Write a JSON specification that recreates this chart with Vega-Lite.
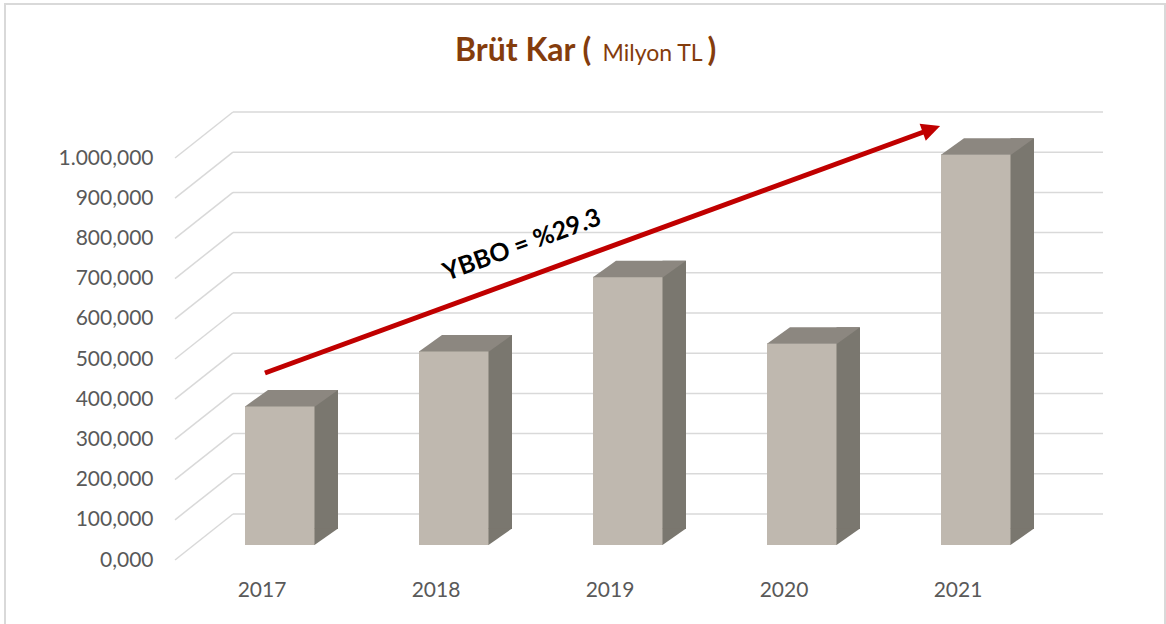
{
  "$schema": "https://vega.github.io/schema/vega-lite/v6.json",
  "width": 1160,
  "height": 620,
  "autosize": {"type": "none"},
  "padding": {"left": 5, "top": 4, "right": 1, "bottom": 0},
  "background": "white",
  "config": {
    "locale": {"number": {"decimal": ",", "thousands": ".", "grouping": [3], "currency": ["", " TL"]}},
    "view": {"stroke": "#d9d9d9", "strokeWidth": 2, "strokeDash": [1780, 1160, 620]},
    "font": "Lato"
  },
  "title": {
    "text": "Brüt Kar (",
    "anchor": "start",
    "frame": "group",
    "orient": "top",
    "offset": 0,
    "dx": 450,
    "dy": 89,
    "baseline": "alphabetic",
    "font": "Lato",
    "fontSize": 32,
    "fontWeight": "bold",
    "color": "#843C0C"
  },
  "datasets": {
    "kar": [
      {"yil": "2017", "deger": 345.8},
      {"yil": "2018", "deger": 482.6},
      {"yil": "2019", "deger": 667.4},
      {"yil": "2020", "deger": 501.7},
      {"yil": "2021", "deger": 971.9}
    ],
    "izgara": [
      {"v": 0}, {"v": 100}, {"v": 200}, {"v": 300}, {"v": 400}, {"v": 500},
      {"v": 600}, {"v": 700}, {"v": 800}, {"v": 900}, {"v": 1000}
    ],
    "not": [{"etiket": "YBBO = %29.3"}]
  },
  "layer": [
    {
      "data": {"name": "izgara"},
      "mark": {"type": "rule", "color": "#d9d9d9", "strokeWidth": 1.5, "yOffset": -46, "xOffset": 58, "x2Offset": 58},
      "encoding": {
        "x": {
          "datum": "2017", "type": "nominal", "bandPosition": 0,
          "scale": {"type": "band", "domain": ["2017", "2018", "2019", "2020", "2021"], "range": [170, 1040], "paddingInner": 0, "paddingOuter": 0},
          "axis": {
            "title": ")", "titleX": 702, "titleY": -530, "titleAngle": 0, "titleAlign": "left", "titleBaseline": "alphabetic",
            "titleFont": "Lato", "titleFontSize": 32, "titleFontWeight": "bold", "titleColor": "#843C0C",
            "offset": -34, "domain": false, "ticks": false, "tickSize": 0, "grid": false,
            "labelAngle": 0, "labelBaseline": "middle", "labelPadding": 0,
            "labelFont": "Lato", "labelFontSize": 21, "labelColor": "#595959"
          }
        },
        "x2": {"datum": "2021", "bandPosition": 1},
        "y": {
          "field": "v", "type": "quantitative",
          "scale": {"domain": [0, 1000], "range": [556, 154], "nice": false, "zero": true},
          "axis": {
            "title": "Milyon TL", "titleX": 427, "titleY": 56, "titleAngle": 0, "titleAlign": "left", "titleBaseline": "alphabetic",
            "titleFont": "Lato", "titleFontSize": 23, "titleFontWeight": "normal", "titleColor": "#843C0C",
            "values": [0, 100, 200, 300, 400, 500, 600, 700, 800, 900, 1000],
            "format": ",.3f",
            "offset": -170, "domain": false, "ticks": false, "tickSize": 0, "grid": false,
            "labelPadding": 22, "labelBaseline": "middle",
            "labelFont": "Lato", "labelFontSize": 21, "labelColor": "#595959"
          }
        }
      }
    },
    {
      "data": {"name": "izgara"},
      "mark": {"type": "rule", "color": "#d9d9d9", "strokeWidth": 1.5, "x2Offset": 58, "y2Offset": -46},
      "encoding": {
        "x": {"datum": "2017", "type": "nominal", "bandPosition": 0},
        "x2": {"datum": "2017", "bandPosition": 0},
        "y": {"field": "v", "type": "quantitative"},
        "y2": {"field": "v"}
      }
    },
    {
      "data": {"name": "kar"},
      "mark": {"type": "bar", "color": "#BFB8AF", "width": 70, "xOffset": 18, "yOffset": -15, "y2Offset": -15},
      "encoding": {
        "x": {"field": "yil", "type": "nominal"},
        "y": {"field": "deger", "type": "quantitative"},
        "y2": {"datum": 0}
      }
    },
    {
      "data": {"name": "kar"},
      "mark": {"type": "bar", "color": "#7A776F", "width": 23.5, "xOffset": 64.25, "yOffset": -31, "y2Offset": -31},
      "encoding": {
        "x": {"field": "yil", "type": "nominal"},
        "y": {"field": "deger", "type": "quantitative"},
        "y2": {"datum": 0}
      }
    },
    {
      "data": {"name": "kar"},
      "mark": {"type": "point", "shape": "M52.5,-31.5L76,-31.5L52.5,-15Z", "size": 4, "filled": true, "opacity": 1, "color": "#7A776F", "strokeWidth": 0},
      "encoding": {
        "x": {"field": "yil", "type": "nominal"},
        "y": {"datum": 0, "type": "quantitative"}
      }
    },
    {
      "data": {"name": "kar"},
      "mark": {"type": "point", "shape": "M-17,-14.5L53,-14.5L76,-31L6,-31Z", "size": 4, "filled": true, "opacity": 1, "color": "#8C8780", "strokeWidth": 0},
      "encoding": {
        "x": {"field": "yil", "type": "nominal"},
        "y": {"field": "deger", "type": "quantitative"}
      }
    },
    {
      "data": {"name": "not"},
      "mark": {"type": "rule", "color": "#C00000", "strokeWidth": 5},
      "encoding": {
        "x": {"datum": "2017", "type": "nominal", "bandPosition": 0.517},
        "x2": {"datum": "2021", "bandPosition": 0.302},
        "y": {"datum": 465.2, "type": "quantitative"},
        "y2": {"datum": 1064.7}
      }
    },
    {
      "data": {"name": "not"},
      "mark": {"type": "point", "shape": "M0,0L-18.5,-9L-18.5,9Z", "size": 4, "angle": -20, "filled": true, "opacity": 1, "color": "#C00000", "strokeWidth": 0},
      "encoding": {
        "x": {"datum": "2021", "type": "nominal", "bandPosition": 0.397},
        "y": {"datum": 1079.6, "type": "quantitative"}
      }
    },
    {
      "data": {"name": "not"},
      "mark": {"type": "text", "angle": -20, "font": "Lato", "fontSize": 25, "fontWeight": "bold", "color": "#000000", "align": "center", "baseline": "middle"},
      "encoding": {
        "x": {"datum": "2018", "type": "nominal", "bandPosition": 0.994},
        "y": {"datum": 783.6, "type": "quantitative"},
        "text": {"field": "etiket", "type": "nominal"}
      }
    }
  ]
}
